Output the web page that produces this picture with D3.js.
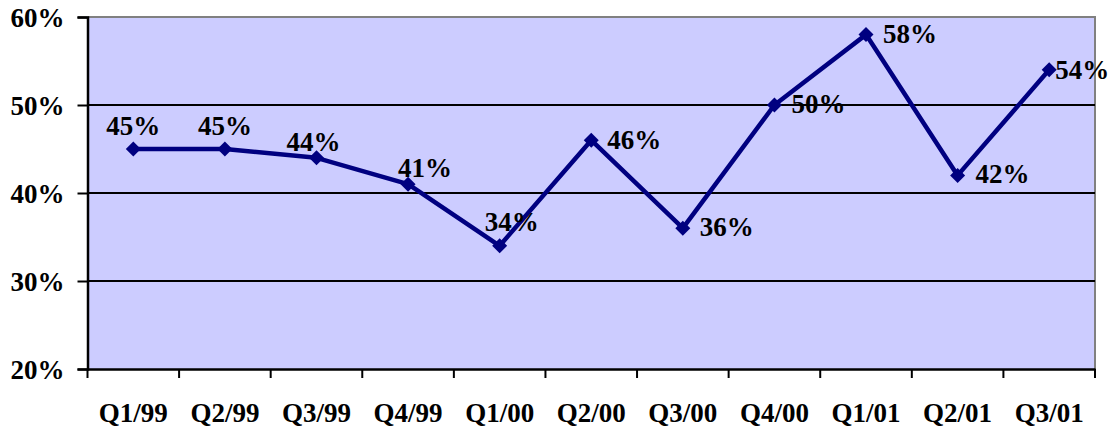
<!DOCTYPE html>
<html>
<head>
<meta charset="utf-8">
<script src="https://cdn.jsdelivr.net/npm/d3@7"></script>
<style>
  body { margin: 0; background: #fff; }
  text { font-family: "Liberation Serif", "Times New Roman", serif; font-weight: bold; font-size: 27px; fill: #000; }
</style>
</head>
<body>
<svg id="chart" width="1120" height="430"></svg>
<script>
// Data
const quarters = ["Q1/99", "Q2/99", "Q3/99", "Q4/99", "Q1/00", "Q2/00", "Q3/00", "Q4/00", "Q1/01", "Q2/01", "Q3/01"];
const shares = [45, 45, 44, 41, 34, 46, 36, 50, 58, 42, 54];
const yTicks = [20, 30, 40, 50, 60];

const svg = d3.select("#chart");
const plotL = 87.5, plotR = 1095, plotT = 17, plotB = 369;

const x = d3.scaleBand().domain(quarters).range([plotL, plotR]);
const y = d3.scaleLinear().domain([20, 60]).range([plotB, plotT]);

// plot area background
svg.append("rect")
    .attr("x", plotL).attr("y", plotT)
    .attr("width", plotR - plotL).attr("height", plotB - plotT)
    .attr("fill", "#ccccff");

// top and right border (grey)
svg.append("path")
    .attr("d", `M${plotL},${plotT}H${plotR}V${plotB}`)
    .attr("fill", "none")
    .attr("stroke", "#808080")
    .attr("stroke-width", 2);

// gridlines
svg.selectAll("line.grid")
    .data(yTicks.filter(d => d > 20 && d < 60))
    .enter().append("line")
    .attr("class", "grid")
    .attr("x1", plotL).attr("x2", plotR)
    .attr("y1", d => y(d)).attr("y2", d => y(d))
    .attr("stroke", "#000").attr("stroke-width", 2);

// y axis
const yAxis = svg.append("g")
    .attr("transform", `translate(${plotL},0)`)
    .call(d3.axisLeft(y).tickValues(yTicks).tickFormat(d => d + "%").tickSize(10).tickPadding(13));
yAxis.select(".domain").attr("stroke", "#000").attr("stroke-width", 2.5);
yAxis.selectAll(".tick line").attr("stroke", "#000").attr("stroke-width", 2);
yAxis.selectAll("text").attr("dy", "0.35em");

// x axis with ticks on band boundaries
const xAxis = svg.append("g")
    .attr("transform", `translate(0,${plotB})`)
    .call(d3.axisBottom(x).tickSize(0).tickPadding(34));
xAxis.select(".domain").attr("stroke", "#000").attr("stroke-width", 2.5);
xAxis.selectAll("line.bnd")
    .data(quarters.concat(["end"]))
    .enter().append("line")
    .attr("class", "bnd")
    .attr("x1", (d, i) => plotL + i * x.step())
    .attr("x2", (d, i) => plotL + i * x.step())
    .attr("y1", 0).attr("y2", 9)
    .attr("stroke", "#000").attr("stroke-width", 2);

const pts = quarters.map((q, i) => ({ q: q, v: shares[i] }));

// line
svg.append("path")
    .datum(pts)
    .attr("fill", "none")
    .attr("stroke", "#000080")
    .attr("stroke-width", 4.5)
    .attr("stroke-linejoin", "round")
    .attr("d", d3.line().x(d => x(d.q) + x.bandwidth() / 2).y(d => y(d.v)));

// diamond markers
svg.selectAll("path.mk")
    .data(pts)
    .enter().append("path")
    .attr("class", "mk")
    .attr("transform", d => `translate(${x(d.q) + x.bandwidth() / 2},${y(d.v)})`)
    .attr("d", "M0,-7.5L7.5,0L0,7.5L-7.5,0Z")
    .attr("fill", "#000080");

// label placement: first points above, later ones to the right
const labelOffset = [
    [0, -14, "middle"], [0, -14, "middle"], [-3, -7, "middle"], [17, -7, "middle"],
    [12, -15, "middle"], [16, 9, "start"], [17, 8, "start"], [17, 8, "start"],
    [17, 8, "start"], [18, 8, "start"], [6, 9, "start"]
];

svg.selectAll("text.lbl")
    .data(pts)
    .enter().append("text")
    .attr("class", "lbl")
    .attr("x", (d, i) => x(d.q) + x.bandwidth() / 2 + labelOffset[i][0])
    .attr("y", (d, i) => y(d.v) + labelOffset[i][1])
    .attr("text-anchor", (d, i) => labelOffset[i][2])
    .text(d => d.v + "%");
</script>
</body>
</html>
